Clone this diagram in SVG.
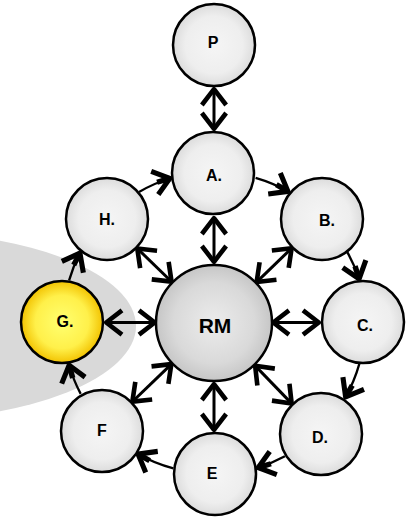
<svg xmlns="http://www.w3.org/2000/svg" width="411" height="517" viewBox="0 0 411 517">
<style>
.n{stroke:#000;stroke-width:2.5;fill:url(#gl)}
.rm{stroke:#000;stroke-width:2.5;fill:url(#gr)}
.g{stroke:#000;stroke-width:2.5;fill:url(#gy)}
.t{font-family:"Liberation Sans",Arial,sans-serif;font-weight:bold;font-size:16px;text-anchor:middle;fill:#000}
.d{stroke:#000;stroke-width:3;fill:none;marker-start:url(#hd);marker-end:url(#hd)}
.r{stroke:#000;stroke-width:2.3;fill:none;marker-end:url(#hr)}
</style>
<defs>
<radialGradient id="gl" cx="50%" cy="50%" r="50%"><stop offset="0" stop-color="#f5f5f5"/><stop offset="0.7" stop-color="#eeeeee"/><stop offset="1" stop-color="#dcdcdc"/></radialGradient>
<radialGradient id="gr" cx="50%" cy="50%" r="50%"><stop offset="0" stop-color="#ececec"/><stop offset="0.7" stop-color="#d9d9d9"/><stop offset="1" stop-color="#c6c6c6"/></radialGradient>
<radialGradient id="gy" cx="50%" cy="50%" r="50%"><stop offset="0" stop-color="#ffff70"/><stop offset="0.65" stop-color="#fff04a"/><stop offset="1" stop-color="#f2c200"/></radialGradient>
<marker id="hd" markerUnits="userSpaceOnUse" markerWidth="34" markerHeight="34" viewBox="-18 -14 22 28" refX="0" refY="0" orient="auto-start-reverse"><path d="M-14,-10 L-1,0 L-14,10" fill="none" stroke="#000" stroke-width="3.8" stroke-linejoin="round"/></marker>
<marker id="hr" markerUnits="userSpaceOnUse" markerWidth="34" markerHeight="34" viewBox="-18 -14 22 28" refX="0" refY="0" orient="auto"><path d="M-14,-10 L-1,0 L-14,10" fill="none" stroke="#000" stroke-width="4.2" stroke-linejoin="round"/><path d="M-12,0 L-1,0" stroke="#000" stroke-width="4.5"/></marker>
</defs>
<ellipse cx="-100" cy="326" rx="236" ry="94" fill="#d9d9d9"/>
<g id="connectors">
<path class="d" d="M214,88 L214,130"/>
<path class="d" d="M214,217 L214,263"/>
<path class="d" d="M255.8,282.8 L292.5,247.4"/>
<path class="d" d="M272,322.5 L320,322.5"/>
<path class="d" d="M254.3,364.8 L292.5,404.4"/>
<path class="d" d="M214,383 L214,431"/>
<path class="d" d="M172.2,363.3 L131.5,402.5"/>
<path class="d" d="M156,322.5 L105,322.5"/>
<path class="d" d="M172.4,282.5 L136.4,247.6"/>
<path class="r" d="M255.6,177.8 A151,151 0 0 1 289,192"/>
<path class="r" d="M347.3,252.1 A151,151 0 0 1 359.5,280"/>
<path class="r" d="M359.4,363.6 A151,151 0 0 1 345,398"/>
<path class="r" d="M284.9,456.3 A151,151 0 0 1 257,468"/>
<path class="r" d="M173.4,468.4 A151,151 0 0 1 137,453.5"/>
<path class="r" d="M80.7,393.9 A151,151 0 0 1 68.8,364"/>
<path class="r" d="M69.1,280.4 A151,151 0 0 1 80.5,252"/>
<path class="r" d="M139,192 A151,151 0 0 1 171,178"/>
</g>
<g id="P"><circle class="n" cx="214" cy="45" r="41"/><text class="t" x="213" y="48">P</text></g>
<g id="A"><circle class="n" cx="213" cy="173" r="41"/><text class="t" x="214" y="181">A.</text></g>
<g id="B"><circle class="n" cx="322" cy="219" r="41"/><text class="t" x="327" y="226">B.</text></g>
<g id="C"><circle class="n" cx="363" cy="322" r="41"/><text class="t" x="365" y="331">C.</text></g>
<g id="D"><circle class="n" cx="321" cy="434" r="41"/><text class="t" x="320" y="443">D.</text></g>
<g id="E"><circle class="n" cx="215" cy="474" r="41"/><text class="t" x="212" y="479">E</text></g>
<g id="F"><circle class="n" cx="102" cy="431" r="41"/><text class="t" x="102" y="436">F</text></g>
<g id="G"><circle class="g" cx="62" cy="322" r="41"/><text class="t" x="65" y="327">G.</text></g>
<g id="H"><circle class="n" cx="107" cy="219" r="41"/><text class="t" x="107" y="225">H.</text></g>
<g id="RM"><circle class="rm" cx="214" cy="323" r="58"/><text class="t" x="215" y="333" style="font-size:21px">RM</text></g>
</svg>
